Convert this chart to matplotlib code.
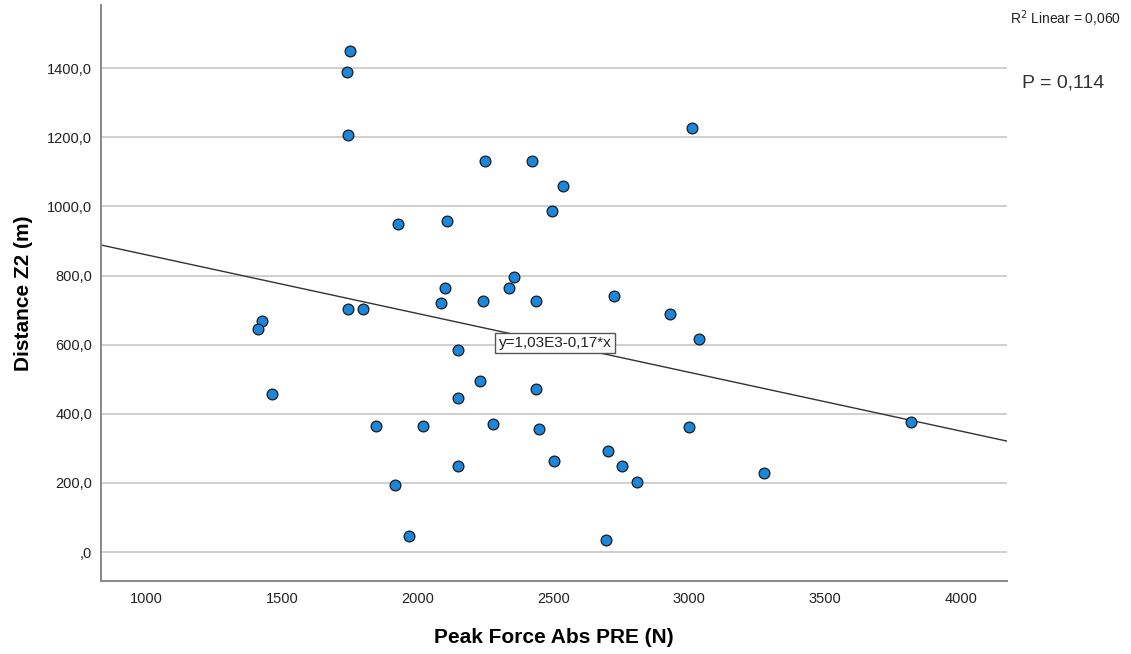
import numpy as np
import matplotlib.pyplot as plt

plt.rcParams['font.family'] = ['Liberation Sans', 'DejaVu Sans']

# Peak Force Abs PRE (N) vs Distance Z2 (m)
peak_force = np.array([1749, 1740, 1744, 1744, 1798, 1426, 1413, 1464, 1847,
                       3011, 2247, 2421, 2534, 2496, 1926, 2109, 2354, 2100,
                       2337, 2087, 2242, 2436, 2722, 2930, 3036, 2147, 2230,
                       2149, 2434, 2020, 2276, 2445, 2999, 2699, 2147, 2502,
                       2751, 2806, 1917, 1969, 2694, 3816, 3276])
distance = np.array([1450, 1388, 1208, 702, 703, 669, 646, 458, 364,
                     1226, 1130, 1130, 1058, 988, 948, 957, 797, 763,
                     763, 720, 727, 727, 740, 690, 616, 585, 494,
                     445, 472, 365, 371, 357, 362, 293, 248, 264,
                     248, 202, 195, 46, 35, 375, 229])

# fit line as printed on the chart
fit_intercept = 1.03e3
fit_slope = -0.17
fit_label = "y=1,03E3-0,17*x"
r2_text = "R$^2$ Linear = 0,060"
p_text = "P = 0,114"

xticks = [1000, 1500, 2000, 2500, 3000, 3500, 4000]
yticks = [0, 200, 400, 600, 800, 1000, 1200, 1400]

fig = plt.figure(figsize=(11.31, 6.54), dpi=100)
ax = fig.add_axes([0.089, 0.112, 0.801, 0.880])

xmin, xmax = 832, 4169
ax.set_xlim(xmin, xmax)
ax.set_ylim(-83, 1582)

ax.set_yticks(yticks)
ax.set_yticklabels([("%d,0" % v) if v else ",0" for v in yticks])
ax.set_xticks(xticks)
ax.set_xticklabels([str(v) for v in xticks])
ax.tick_params(length=0, labelsize=10.5, labelcolor='#222222')
ax.tick_params(axis='x', pad=8)
ax.tick_params(axis='y', pad=6)

ax.grid(axis='y', color='#cfcfcf', linewidth=1.4)
ax.set_axisbelow(True)
for s in ['top', 'right']:
    ax.spines[s].set_visible(False)
for s in ['left', 'bottom']:
    ax.spines[s].set_color('#888888')
    ax.spines[s].set_linewidth(1.4)

xs = np.array([xmin, xmax])
ax.plot(xs, fit_intercept + fit_slope * xs, color='#333333', linewidth=1.0, zorder=2)

ax.scatter(peak_force, distance, s=60, color='#1a87dc', edgecolors='#1a1a1a',
           linewidths=0.9, zorder=3)

ax.text(2505, 605, fit_label, fontsize=11, color='#222222', ha='center', va='center',
        bbox=dict(boxstyle='square,pad=0.22', facecolor='white', edgecolor='#555555',
                  linewidth=1.0), zorder=4)

ax.set_xlabel("Peak Force Abs PRE (N)", fontsize=15, fontweight='bold', labelpad=16)
ax.set_ylabel("Distance Z2 (m)", fontsize=15, fontweight='bold', labelpad=10)

fig.text(0.9915, 0.972, r2_text, fontsize=10, color='#222222', ha='right', va='center')
fig.text(0.9035, 0.873, p_text, fontsize=14, color='#333333', ha='left', va='center')

fig.savefig('out.png', dpi=100)
